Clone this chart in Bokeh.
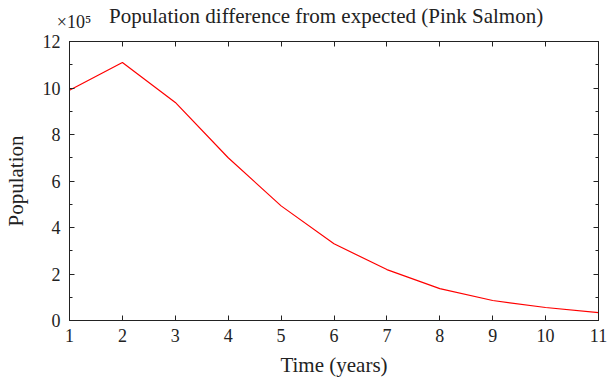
from bokeh.plotting import figure
from bokeh.models import Range1d, LinearAxis, FixedTicker
from bokeh.embed import file_html
from bokeh.resources import INLINE

years = [1, 2, 3, 4, 5, 6, 7, 8, 9, 10, 11]
population_e5 = [9.9, 11.1, 9.38, 7.0, 4.93, 3.3, 2.19, 1.37, 0.86, 0.56, 0.34]
x_ticks = list(range(1, 12))
y_ticks = [0, 2, 4, 6, 8, 10, 12]
y_minor = [1, 3, 5, 7, 9, 11]
title_text = "Population difference from expected (Pink Salmon)"
scale_text = "×10⁵"
x_label = "Time (years)"
y_label = "Population"

FONT = "Liberation Serif"
INK = "#222222"
NBSP = "\u00a0"

p = figure(width=607, height=383, output_backend="svg", toolbar_location=None,
           x_range=Range1d(1, 11), y_range=Range1d(0, 12),
           min_border_left=69, min_border_right=9, min_border_top=40, min_border_bottom=63)
p.grid.visible = False
p.outline_line_color = INK
p.outline_line_width = 1

p.line(years, population_e5, line_color="#ff0000", line_width=1.2)

def style(ax):
    ax.major_tick_in = 5
    ax.major_tick_out = 0
    ax.minor_tick_in = 3
    ax.minor_tick_out = 0
    ax.axis_line_color = INK
    ax.major_tick_line_color = INK
    ax.minor_tick_line_color = INK
    ax.major_label_text_font = FONT
    ax.major_label_text_font_size = "18px"
    ax.major_label_text_color = INK
    ax.axis_label_text_font = FONT
    ax.axis_label_text_font_size = "21px"
    ax.axis_label_text_font_style = "normal"
    ax.axis_label_text_color = INK

xb = p.xaxis[0]
xb.ticker = FixedTicker(ticks=x_ticks)
xb.axis_label = x_label
style(xb)
xb.major_label_standoff = 8
xb.axis_label_standoff = 8

yl = p.yaxis[0]
yl.ticker = FixedTicker(ticks=y_ticks, minor_ticks=y_minor)
yl.axis_label = y_label
style(yl)
yl.major_label_standoff = 9
yl.axis_label_standoff = 12

# top axis: ticks only, carries the ×10^5 multiplier and the title
xt = LinearAxis(ticker=FixedTicker(ticks=x_ticks))
style(xt)
top_over = {t: "" for t in x_ticks}
top_over[x_ticks[0]] = NBSP * 2 + scale_text
xt.major_label_overrides = top_over
xt.major_label_standoff = 10
xt.axis_label = title_text + NBSP * 3
xt.axis_label_standoff = -19
p.add_layout(xt, "above")

yr = LinearAxis(ticker=FixedTicker(ticks=y_ticks, minor_ticks=y_minor))
style(yr)
yr.major_label_overrides = {t: "" for t in y_ticks}
yr.major_label_standoff = 0
p.add_layout(yr, "right")

open("out.html", "w").write(file_html(p, INLINE))
